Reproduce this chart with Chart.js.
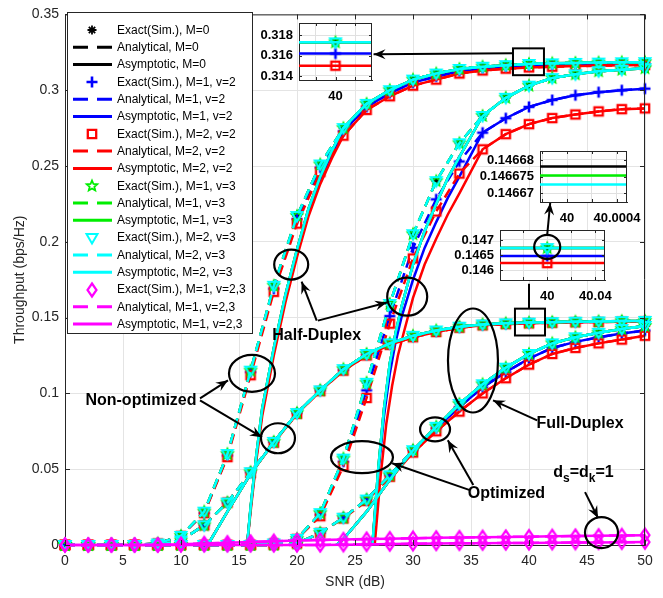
<!DOCTYPE html>
<html>
<head>
<meta charset="utf-8">
<script src="https://cdn.jsdelivr.net/npm/chart.js@4.4.1/dist/chart.umd.min.js"></script>
<style>
html,body{margin:0;padding:0;background:#ffffff;overflow:hidden;}
#wrap{position:relative;width:663px;height:598px;}
#wrap canvas{position:absolute;left:0;top:0;}
</style>
</head>
<body>
<div id="wrap">
<canvas id="main" width="663" height="598"></canvas>
<canvas id="in1" width="663" height="598"></canvas>
<canvas id="in2" width="663" height="598"></canvas>
<canvas id="in3" width="663" height="598"></canvas>
</div>
<script>
// ---------------- DATA ----------------
const snr = [0,2,4,6,8,10,12,14,16,18,20,22,24,26,28,30,32,34,36,38,40,42,44,46,48,50];

// Half-duplex, non-optimized
const hdNonV3   = [0,0,0,0,0.001,0.006,0.022,0.060,0.115,0.171,0.217,0.251,0.275,0.291,0.300,0.307,0.311,0.314,0.3155,0.3165,0.3173,0.3177,0.318,0.3182,0.3184,0.3185];
const hdNonBlue = [0,0,0,0,0.001,0.006,0.021,0.059,0.114,0.169,0.215,0.249,0.273,0.289,0.298,0.305,0.309,0.3125,0.3145,0.3155,0.3162,0.3167,0.317,0.3172,0.3174,0.3175];
const hdNonRed  = [0,0,0,0,0.001,0.006,0.021,0.058,0.112,0.167,0.212,0.246,0.270,0.287,0.296,0.303,0.307,0.311,0.313,0.3142,0.315,0.3155,0.3159,0.3162,0.3164,0.3166];
// Half-duplex, optimized
const hdOptV3   = [0,0,0,0,0,0,0,0,0,0.001,0.004,0.021,0.057,0.107,0.159,0.205,0.240,0.265,0.283,0.295,0.303,0.308,0.3105,0.3125,0.3135,0.3145];
const hdOptBlue = [0,0,0,0,0,0,0,0,0,0.001,0.004,0.020,0.055,0.102,0.151,0.196,0.228,0.253,0.272,0.2815,0.289,0.2935,0.2967,0.2987,0.300,0.301];
const hdOptRed  = [0,0,0,0,0,0,0,0,0,0.001,0.004,0.019,0.052,0.097,0.146,0.189,0.220,0.245,0.261,0.271,0.2776,0.2816,0.284,0.286,0.2875,0.288];
// Full-duplex, non-optimized
const fdNonV3   = [0,0,0,0,0,0.003,0.013,0.028,0.048,0.068,0.087,0.102,0.116,0.126,0.133,0.138,0.1415,0.144,0.1455,0.1462,0.1467,0.147,0.1473,0.1475,0.1477,0.1478];
const fdNonBlue = [0,0,0,0,0,0.003,0.013,0.028,0.048,0.068,0.087,0.102,0.1155,0.1255,0.1325,0.1375,0.141,0.1437,0.1452,0.1459,0.14647,0.1468,0.1471,0.1473,0.1475,0.1476];
const fdNonRed  = [0,0,0,0,0,0.003,0.013,0.028,0.0475,0.0675,0.0865,0.1015,0.115,0.125,0.132,0.137,0.1405,0.1433,0.1449,0.1457,0.14623,0.1466,0.1469,0.1471,0.1473,0.1474];
// Full-duplex, optimized
const fdOptV3   = [0,0,0,0,0,0,0,0,0,0,0.001,0.008,0.018,0.030,0.046,0.0625,0.078,0.093,0.106,0.117,0.126,0.133,0.137,0.140,0.1425,0.1445];
const fdOptBlue = [0,0,0,0,0,0,0,0,0,0,0.001,0.008,0.018,0.030,0.046,0.0625,0.077,0.091,0.104,0.114,0.123,0.130,0.134,0.137,0.1395,0.1415];
const fdOptRed  = [0,0,0,0,0,0,0,0,0,0,0.001,0.008,0.0175,0.029,0.045,0.061,0.075,0.088,0.100,0.110,0.119,0.126,0.130,0.133,0.1355,0.138];
// d_s = d_k = 1 (magenta)
const magNon = [0,0,0,0,0,0.0005,0.001,0.0015,0.002,0.0025,0.003,0.0033,0.0036,0.0039,0.0042,0.0045,0.0047,0.0049,0.0051,0.0053,0.0055,0.0057,0.0059,0.0061,0.0063,0.0065];
const magOpt = [0,0,0,0,0,0,0,0,0,0,0,0,0.0002,0.0004,0.0006,0.0008,0.001,0.0011,0.0012,0.0013,0.0014,0.0015,0.0016,0.0017,0.0018,0.0019];

// Asymptotic curves, low-SNR part (they join the analytical values above)
const hdNonAsymSnr  = [15.7,16,16.5,17,18,19,20,21,22,23];
const hdNonAsymV3   = [0,0.025,0.060,0.090,0.130,0.165,0.195,0.222,0.243,0.260];
const hdNonAsymBlue = [0,0.024,0.058,0.088,0.128,0.163,0.193,0.220,0.241,0.258];
const hdNonAsymRed  = [0,0.022,0.056,0.085,0.125,0.160,0.190,0.217,0.238,0.255];
const fdNonAsymSnr  = [12.3,14,16];
const fdNonAsymV3   = [0,0.022,0.047];
const hdOptAsymSnr  = [26.5,27,27.5,28,28.5,29,30,31,32,33,34];
const hdOptAsymSnrRed = [26.7,27.2,27.7,28.2,28.7,29.2,30,31,32,33,34];
const hdOptAsymV3   = [0,0.050,0.090,0.120,0.140,0.157,0.185,0.207,0.225,0.242,0.256];
const hdOptAsymBlue = [0,0.047,0.085,0.113,0.134,0.150,0.175,0.196,0.213,0.229,0.243];
const hdOptAsymRed  = [0,0.045,0.080,0.105,0.125,0.140,0.163,0.185,0.202,0.218,0.232];
const fdOptAsymSnr  = [23.4,24,26,28];
const fdOptAsymV3   = [0,0.004,0.022,0.043];

// ticks
const xTickValues = [0,5,10,15,20,25,30,35,40,45,50];
const xTickLabels = ['0','5','10','15','20','25','30','35','40','45','50'];
const yTickValues = [0,0.05,0.1,0.15,0.2,0.25,0.3,0.35];
const yTickLabels = ['0','0.05','0.1','0.15','0.2','0.25','0.3','0.35'];

// legend names
const seriesNames = ['M=0','M=1, v=2','M=2, v=2','M=1, v=3','M=2, v=3','M=1, v=2,3'];
const kindNames = ['Exact(Sim.), ','Analytical, ','Asymptotic, '];

// inset data
const in1Snr = [39,40,41];
const in1Cyan = [0.3173,0.3173,0.3173];
const in1Blue = [0.3162,0.3162,0.3162];
const in1Red  = [0.3150,0.3150,0.3150];
const in1XTicks = [39.8,40,40.2];      const in1XLabels = ['','40',''];
const in1YTicks = [0.314,0.316,0.318]; const in1YLabels = ['0.314','0.316','0.318'];

const in2Snr = [39.999,40,40.001];
const in2Black = [0.146678,0.146678,0.146678];
const in2Green = [0.1466753,0.1466753,0.1466753];
const in2Cyan  = [0.1466726,0.1466726,0.1466726];
const in2XTicks = [39.9998,40,40.0002,40.0004]; const in2XLabels = ['','40','','40.0004'];
const in2YTicks = [0.14667,0.146675,0.14668];   const in2YLabels = ['0.14667','0.146675','0.14668'];

const in3Snr = [39.9,40,40.1];
const in3Cyan = [0.14673,0.14673,0.14673];
const in3Blue = [0.14647,0.14647,0.14647];
const in3Red  = [0.14623,0.14623,0.14623];
const in3XTicks = [39.98,40,40.02,40.04]; const in3XLabels = ['','40','','40.04'];
const in3YTicks = [0.146,0.1465,0.147];   const in3YLabels = ['0.146','0.1465','0.147'];

// annotation anchors (data units)
const annEllipses = [
  {x:19.5, y:0.185, rx:17, ry:15}, {x:29.5, y:0.1638, rx:20, ry:19},
  {x:16.12, y:0.1132, rx:23, ry:18.5}, {x:18.36, y:0.0704, rx:17, ry:15},
  {x:25.6, y:0.0579, rx:31, ry:16}, {x:31.9, y:0.0763, rx:15, ry:12},
  {x:35.17, y:0.1217, rx:25, ry:52}, {x:46.25, y:0.0082, rx:16.5, ry:15.5}
];
const annArrows = [
  [21.7,0.148,20.4,0.1737], [21.8,0.148,27.76,0.160],
  [11.64,0.0967,14.05,0.1086], [11.64,0.0954,16.98,0.0711],
  [34.9,0.0362,28.2,0.0539], [35.2,0.0395,33.0,0.0691],
  [40.7,0.0822,36.9,0.0954], [44.83,0.0349,45.95,0.0178],
  [38.62,0.3243,26.6,0.3237]
];
const annTexts = [
  {t:'Half-Duplex', x:21.7, y:0.138}, {t:'Non-optimized', x:6.55, y:0.0954},
  {t:'Optimized', x:38.05, y:0.0336}, {t:'Full-Duplex', x:44.4, y:0.0803}
];
const annBoxes = [[38.62,0.3276,41.29,0.3099],[38.79,0.1559,41.38,0.1382]];
const annConnector = [40,0.1559,40,0.1724];

// ---------------- STYLE / BUILD ----------------
const FF = '"Liberation Sans", Arial, Helvetica, sans-serif';
Chart.defaults.font.family = FF;

function makeMarker(kind, color) {
  const S = 18, m = 9;
  const c = document.createElement('canvas'); c.width = S; c.height = S;
  const g = c.getContext('2d');
  g.strokeStyle = color; g.lineJoin = 'miter'; g.lineCap = 'butt';
  g.beginPath();
  if (kind === 'asterisk') {
    g.lineWidth = 1.8; const r = 4.5;
    for (let k = 0; k < 4; k++) { const a = k*Math.PI/4; g.moveTo(m+r*Math.cos(a), m+r*Math.sin(a)); g.lineTo(m-r*Math.cos(a), m-r*Math.sin(a)); }
  } else if (kind === 'plus') {
    g.lineWidth = 2.6; const r = 5.5;
    g.moveTo(m-r,m); g.lineTo(m+r,m); g.moveTo(m,m-r); g.lineTo(m,m+r);
  } else if (kind === 'square') {
    g.lineWidth = 2.3; const r = 4.2; g.rect(m-r,m-r,2*r,2*r);
  } else if (kind === 'pentagram') {
    g.lineWidth = 1.8; const R = 5.5, ri = R*0.45;
    for (let k = 0; k < 10; k++) { const a = -Math.PI/2 + k*Math.PI/5; const rr = k%2 ? ri : R; const px = m+rr*Math.cos(a), py = m+rr*Math.sin(a); if (k) g.lineTo(px,py); else g.moveTo(px,py); }
    g.closePath();
  } else if (kind === 'triDown') {
    g.lineWidth = 2; g.moveTo(m-5.5,m-4); g.lineTo(m+5.5,m-4); g.lineTo(m,m+5.5); g.closePath();
  } else if (kind === 'diamond') {
    g.lineWidth = 2.2; g.moveTo(m,m-6.5); g.lineTo(m+4.5,m); g.lineTo(m,m+6.5); g.lineTo(m-4.5,m); g.closePath();
  }
  g.stroke();
  return c;
}

const seriesStyle = [
  {color:'#000000', marker:'asterisk',  curve:'v3'},
  {color:'#0000ff', marker:'plus',      curve:'blue'},
  {color:'#ff0000', marker:'square',    curve:'red'},
  {color:'#00ee00', marker:'pentagram', curve:'v3'},
  {color:'#00ffff', marker:'triDown',   curve:'v3'},
  {color:'#ff00ff', marker:'diamond',   curve:'mag'}
];
const markerImgs = seriesStyle.map(s => makeMarker(s.marker, s.color));

function pts(xs, ys) { return xs.map((x,i) => ({x:x, y:ys[i]})); }
function asymPts(hx, hy, tail, full) { return pts(hx, hy).concat(pts(snr.slice(tail), full.slice(tail))); }

const scenarios = [
  {curves:{v3:hdNonV3, blue:hdNonBlue, red:hdNonRed, mag:magNon},
   asym:{v3:[hdNonAsymSnr,hdNonAsymV3], blue:[hdNonAsymSnr,hdNonAsymBlue], red:[hdNonAsymSnr,hdNonAsymRed]}, tail:12},
  {curves:{v3:fdNonV3, blue:fdNonBlue, red:fdNonRed, mag:magNon},
   asym:{v3:[fdNonAsymSnr,fdNonAsymV3], blue:[fdNonAsymSnr,fdNonAsymV3], red:[fdNonAsymSnr,fdNonAsymV3]}, tail:9},
  {curves:{v3:hdOptV3, blue:hdOptBlue, red:hdOptRed, mag:magOpt},
   asym:{v3:[hdOptAsymSnr,hdOptAsymV3], blue:[hdOptAsymSnr,hdOptAsymBlue], red:[hdOptAsymSnrRed,hdOptAsymRed]}, tail:18},
  {curves:{v3:fdOptV3, blue:fdOptBlue, red:fdOptRed, mag:magOpt},
   asym:{v3:[fdOptAsymSnr,fdOptAsymV3], blue:[fdOptAsymSnr,fdOptAsymV3], red:[fdOptAsymSnr,fdOptAsymV3]}, tail:15}
];

const datasets = [];
seriesStyle.forEach((st, si) => {
  const scs = st.curve === 'mag' ? [scenarios[0], scenarios[2]] : scenarios;
  scs.forEach(sc => {
    const vals = sc.curves[st.curve];
    const asym = st.curve === 'mag' ? pts(snr, vals) : asymPts(sc.asym[st.curve][0], sc.asym[st.curve][1], sc.tail, vals);
    datasets.push({data: asym, borderColor: st.color, borderWidth: 2.5, pointRadius: 0, borderDash: []});
    datasets.push({data: pts(snr, vals), borderColor: st.color, borderWidth: 2.5, pointRadius: 0, borderDash: [10,6]});
    datasets.push({data: pts(snr, vals), showLine: false, pointStyle: markerImgs[si], pointRadius: 5, borderWidth: 0});
  });
});
datasets.forEach((d, i) => { d.order = datasets.length - i; d.clip = 14; d.fill = false; d.tension = 0; });

// ---------------- DRAW HELPERS ----------------
function arrowTo(ctx, x1, y1, x2, y2) {
  ctx.beginPath(); ctx.moveTo(x1, y1); ctx.lineTo(x2, y2); ctx.stroke();
  const a = Math.atan2(y2-y1, x2-x1), L = 12, W = 5;
  const bx = x2 - L*Math.cos(a), by = y2 - L*Math.sin(a);
  const nx = -Math.sin(a), ny = Math.cos(a);
  ctx.beginPath();
  ctx.moveTo(x2, y2);
  ctx.lineTo(bx + nx*W, by + ny*W);
  ctx.lineTo(x2 - L*0.65*Math.cos(a), y2 - L*0.65*Math.sin(a));
  ctx.lineTo(bx - nx*W, by - ny*W);
  ctx.closePath(); ctx.fill();
}
function ellipse(ctx, cx, cy, rx, ry) {
  ctx.beginPath(); ctx.ellipse(cx, cy, rx, ry, 0, 0, Math.PI*2); ctx.stroke();
}
function frame(ctx, a, xs, ys, tl) {
  ctx.strokeStyle = '#262626'; ctx.lineWidth = 1;
  ctx.beginPath();
  ctx.moveTo(a.left, a.top + 0.5); ctx.lineTo(a.right, a.top + 0.5);
  ctx.moveTo(a.right - 0.5, a.top); ctx.lineTo(a.right - 0.5, a.bottom);
  xs.ticks.forEach(t => { const p = Math.round(xs.getPixelForValue(t.value)) + 0.5;
    ctx.moveTo(p, a.bottom); ctx.lineTo(p, a.bottom - tl); ctx.moveTo(p, a.top); ctx.lineTo(p, a.top + tl); });
  ys.ticks.forEach(t => { const p = Math.round(ys.getPixelForValue(t.value)) + 0.5;
    ctx.moveTo(a.left, p); ctx.lineTo(a.left + tl, p); ctx.moveTo(a.right, p); ctx.lineTo(a.right - tl, p); });
  ctx.stroke();
}

const mainPlugin = {
  id: 'mainDeco',
  afterDatasetsDraw(chart) {
    const {ctx, chartArea: a, scales: {x, y}} = chart;
    const X = v => x.getPixelForValue(v), Y = v => y.getPixelForValue(v);
    ctx.save();
    frame(ctx, a, x, y, 5);

    // legend
    const lx = 67.5, ly = 12.5, lw = 185, lh = 321;
    ctx.fillStyle = '#ffffff'; ctx.fillRect(lx, ly, lw, lh);
    ctx.strokeStyle = '#262626'; ctx.lineWidth = 1; ctx.strokeRect(lx, ly, lw, lh);
    ctx.font = '12px ' + FF; ctx.textBaseline = 'middle'; ctx.textAlign = 'left';
    let i = 0;
    seriesStyle.forEach((st, si) => {
      kindNames.forEach((kn, k) => {
        const cy = 30 + i*17.3;
        if (k === 0) {
          ctx.drawImage(markerImgs[si], 92 - 9, Math.round(cy) - 9);
        } else {
          ctx.strokeStyle = st.color; ctx.lineWidth = 3;
          ctx.setLineDash(k === 1 ? [15, 9] : []);
          ctx.beginPath(); ctx.moveTo(73, cy); ctx.lineTo(112, cy); ctx.stroke();
          ctx.setLineDash([]);
        }
        ctx.fillStyle = '#000000';
        ctx.fillText(kn + seriesNames[si], 117, cy + 0.5);
        i++;
      });
    });

    // annotations
    ctx.strokeStyle = '#000000'; ctx.fillStyle = '#000000'; ctx.lineWidth = 2.2;
    annEllipses.forEach(e => ellipse(ctx, X(e.x), Y(e.y), e.rx, e.ry));
    ctx.lineWidth = 2;
    annArrows.forEach(r => arrowTo(ctx, X(r[0]), Y(r[1]), X(r[2]), Y(r[3])));
    annBoxes.forEach(b => { ctx.strokeRect(X(b[0]), Y(b[1]), X(b[2]) - X(b[0]), Y(b[3]) - Y(b[1])); });
    ctx.beginPath(); ctx.moveTo(X(annConnector[0]), Y(annConnector[1])); ctx.lineTo(X(annConnector[2]), Y(annConnector[3])); ctx.stroke();

    ctx.font = 'bold 16px ' + FF; ctx.textAlign = 'center'; ctx.textBaseline = 'middle';
    annTexts.forEach(t => ctx.fillText(t.t, X(t.x), Y(t.y)));
    // d_s = d_k = 1
    const big = 'bold 16px ' + FF, small = 'bold 12px ' + FF;
    const parts = [['d', big, 0], ['s', small, 6], ['=d', big, 0], ['k', small, 6], ['=1', big, 0]];
    let w = 0; parts.forEach(p => { ctx.font = p[1]; w += ctx.measureText(p[0]).width; });
    let sx = X(44.7) - w/2; const sy = Y(0.048);
    ctx.textAlign = 'left';
    parts.forEach(p => { ctx.font = p[1]; ctx.fillText(p[0], sx, sy + p[2]); sx += ctx.measureText(p[0]).width; });
    ctx.restore();
  }
};

new Chart(document.getElementById('main'), {
  type: 'line',
  data: {datasets: datasets},
  options: {
    responsive: false, animation: false, devicePixelRatio: 1,
    layout: {padding: {left: 0, top: 13, right: 18, bottom: 0}},
    plugins: {legend: {display: false}, tooltip: {enabled: false}},
    scales: {
      x: {
        type: 'linear', min: 0, max: 50,
        afterBuildTicks: s => { s.ticks = xTickValues.map(v => ({value: v})); },
        afterFit: s => { s.height = 53; },
        ticks: {callback: (v, i) => xTickLabels[i], font: {size: 14}, color: '#262626', padding: 8, maxRotation: 0, autoSkip: false},
        grid: {color: '#e4e4e4', lineWidth: 1, drawTicks: false},
        border: {display: true, color: '#262626', width: 1},
        title: {display: true, text: 'SNR (dB)', font: {size: 14}, color: '#262626', padding: {top: 0, bottom: 7}}
      },
      y: {
        type: 'linear', min: 0, max: 0.35,
        afterBuildTicks: s => { s.ticks = yTickValues.map(v => ({value: v})); },
        afterFit: s => { s.width = 65; },
        ticks: {callback: (v, i) => yTickLabels[i], font: {size: 14}, color: '#262626', padding: 6, autoSkip: false},
        grid: {color: '#e4e4e4', lineWidth: 1, drawTicks: false},
        border: {display: true, color: '#262626', width: 1},
        title: {display: true, text: 'Throughput (bps/Hz)', font: {size: 14}, color: '#262626', padding: {top: 12, bottom: 0}}
      }
    }
  },
  plugins: [mainPlugin]
});

// ---------------- INSETS ----------------
function makeInset(id, area, xr, yr, xT, xL, yT, yL, sets, extra) {
  const yW = 70, xH = 30;
  const plug = {
    id: 'insetDeco' + id,
    beforeDatasetsDraw(chart) {},
    beforeDraw(chart) {
      const a = chart.chartArea, ctx = chart.ctx;
      ctx.save(); ctx.fillStyle = '#ffffff'; ctx.fillRect(a.left, a.top, a.right - a.left, a.bottom - a.top); ctx.restore();
    },
    afterDatasetsDraw(chart) {
      const ctx = chart.ctx; ctx.save();
      frame(ctx, chart.chartArea, chart.scales.x, chart.scales.y, 3);
      if (extra) extra(chart);
      ctx.restore();
    }
  };
  return new Chart(document.getElementById(id), {
    type: 'line',
    data: {datasets: sets.map((s, i) => ({
      data: pts(s.x, s.y), borderColor: s.color, borderWidth: 2.5, fill: false,
      pointStyle: s.img || false, pointRadius: s.img ? [0, 5, 0] : 0, borderWidth: 2.5,
      order: sets.length - i, tension: 0
    }))},
    options: {
      responsive: false, animation: false, devicePixelRatio: 1,
      layout: {padding: {left: area.left - yW, top: area.top, right: 663 - area.right, bottom: 598 - area.bottom - xH}},
      plugins: {legend: {display: false}, tooltip: {enabled: false}},
      scales: {
        x: {type: 'linear', min: xr[0], max: xr[1],
            afterBuildTicks: s => { s.ticks = xT.map(v => ({value: v})); },
            afterFit: s => { s.height = xH; },
            ticks: {callback: (v, i) => xL[i], font: {size: 13, weight: 'bold'}, color: '#000000', padding: 9, maxRotation: 0, autoSkip: false},
            grid: {color: '#e0e0e0', drawTicks: false}, border: {display: true, color: '#262626', width: 1}},
        y: {type: 'linear', min: yr[0], max: yr[1],
            afterBuildTicks: s => { s.ticks = yT.map(v => ({value: v})); },
            afterFit: s => { s.width = yW; },
            ticks: {callback: (v, i) => yL[i], font: {size: 13, weight: 'bold'}, color: '#000000', padding: 6, autoSkip: false},
            grid: {color: '#e0e0e0', drawTicks: false}, border: {display: true, color: '#262626', width: 1}}
      }
    },
    plugins: [plug]
  });
}

makeInset('in1', {left: 299, top: 23, right: 372, bottom: 80}, [39.63, 40.37], [0.3136, 0.3192],
  in1XTicks, in1XLabels, in1YTicks, in1YLabels, [
    {x: in1Snr, y: in1Red, color: '#ff0000', img: markerImgs[2]},
    {x: in1Snr, y: in1Blue, color: '#0000ff', img: markerImgs[1]},
    {x: in1Snr, y: in1Cyan, color: '#000000', img: markerImgs[0]},
    {x: in1Snr, y: in1Cyan, color: '#00ee00', img: markerImgs[3]},
    {x: in1Snr, y: in1Cyan, color: '#00ffff', img: markerImgs[4]}
  ]);

makeInset('in2', {left: 540, top: 151, right: 627, bottom: 202}, [39.999784, 40.00048], [0.1466673, 0.1466827],
  in2XTicks, in2XLabels, in2YTicks, in2YLabels, [
    {x: in2Snr, y: in2Black, color: '#000000'},
    {x: in2Snr, y: in2Green, color: '#00ee00'},
    {x: in2Snr, y: in2Cyan, color: '#00ffff'}
  ]);

makeInset('in3', {left: 500, top: 230, right: 605, bottom: 280}, [39.9608, 40.048], [0.145667, 0.147333],
  in3XTicks, in3XLabels, in3YTicks, in3YLabels, [
    {x: in3Snr, y: in3Red, color: '#ff0000', img: markerImgs[2]},
    {x: in3Snr, y: in3Blue, color: '#0000ff', img: markerImgs[1]},
    {x: in3Snr, y: in3Cyan, color: '#000000', img: markerImgs[0]},
    {x: in3Snr, y: in3Cyan, color: '#00ee00', img: markerImgs[3]},
    {x: in3Snr, y: in3Cyan, color: '#00ffff', img: markerImgs[4]}
  ], chart => {
    const ctx = chart.ctx, xs = chart.scales.x, ys = chart.scales.y;
    ctx.strokeStyle = '#000000'; ctx.fillStyle = '#000000'; ctx.lineWidth = 2.2;
    ellipse(ctx, xs.getPixelForValue(40), ys.getPixelForValue(0.14677), 13, 12);
    ctx.lineWidth = 2;
    arrowTo(ctx, xs.getPixelForValue(40), ys.getPixelForValue(0.14717), xs.getPixelForValue(40.0025), ys.getPixelForValue(0.148233));
  });
</script>
</body>
</html>
